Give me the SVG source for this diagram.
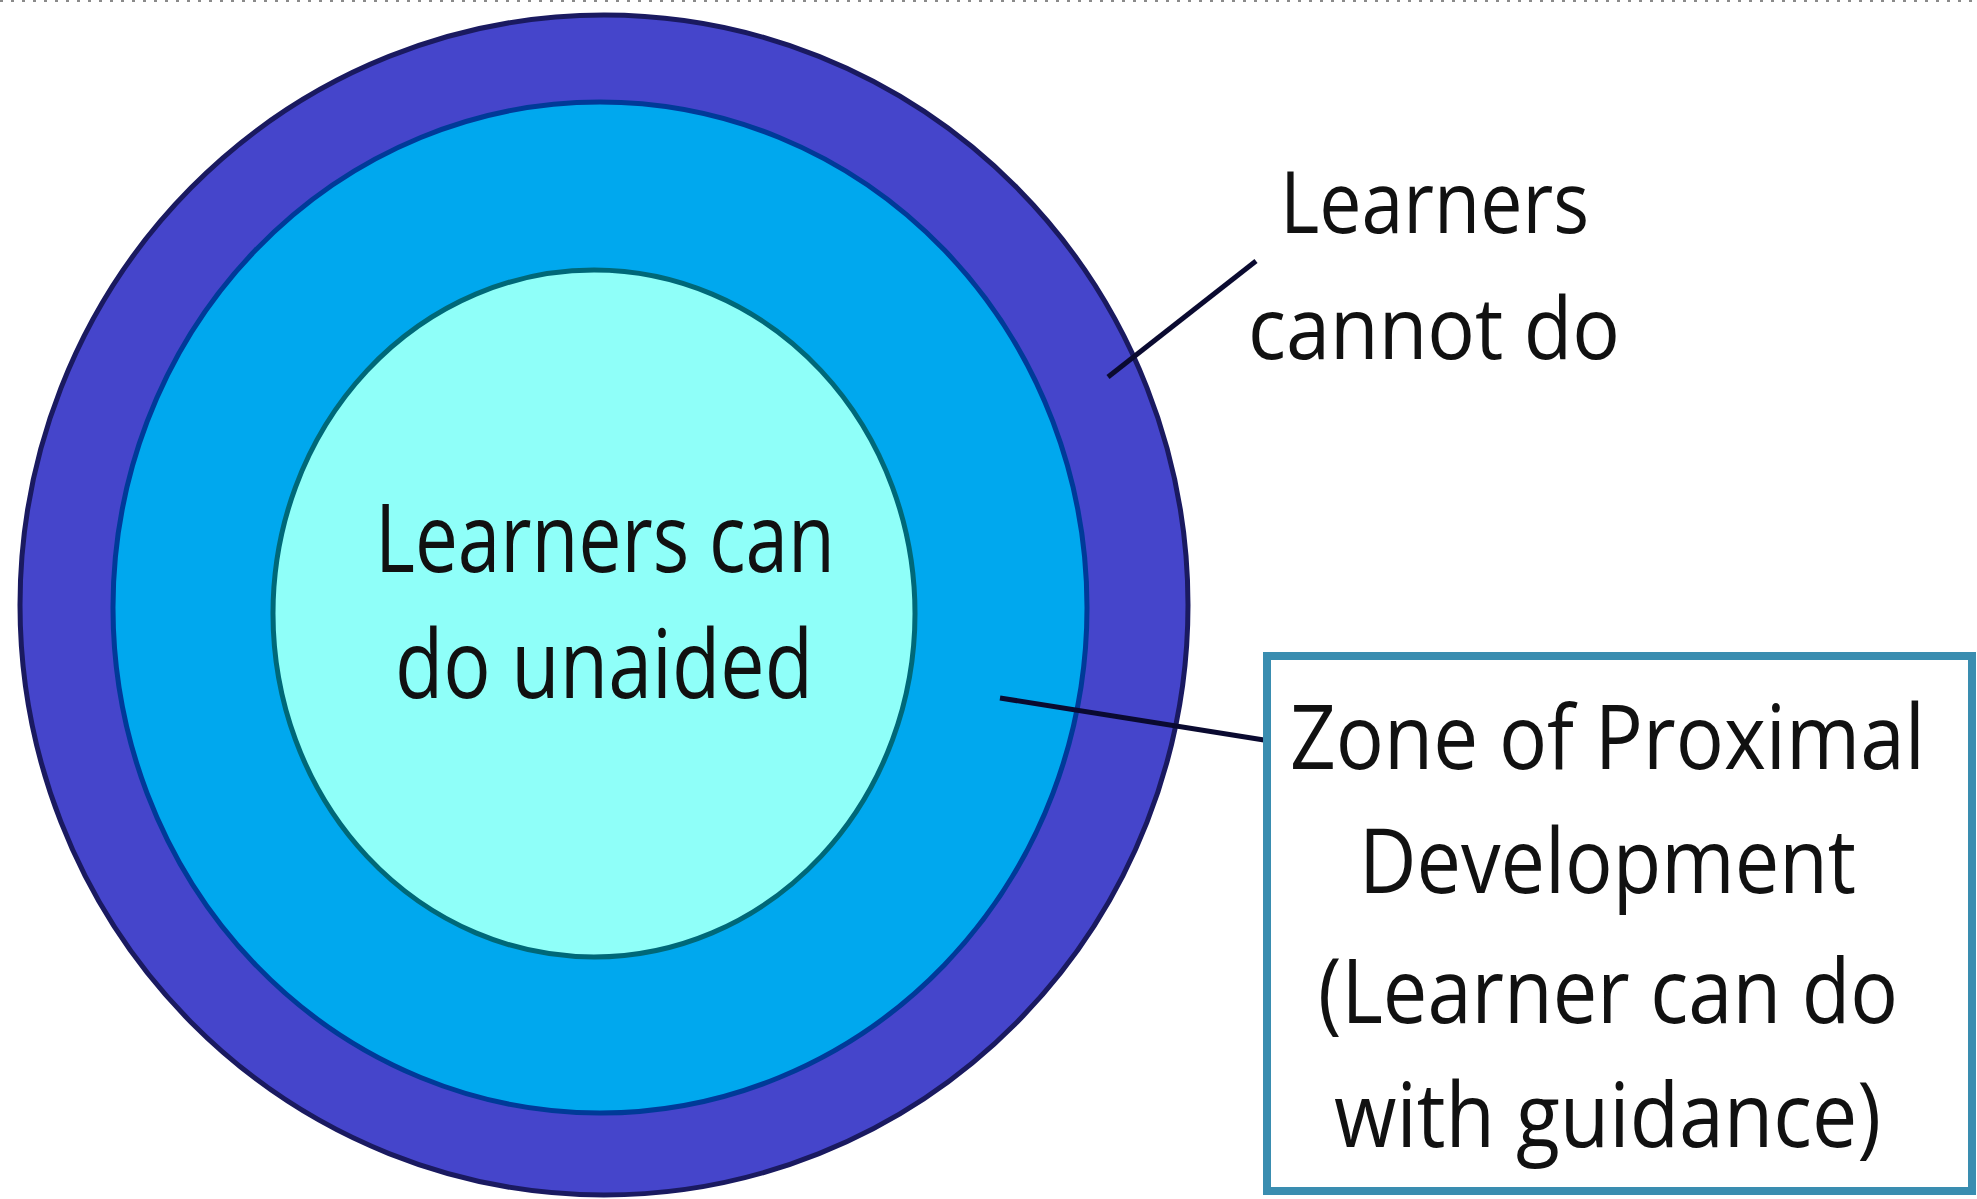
<svg xmlns="http://www.w3.org/2000/svg" width="1977" height="1199" viewBox="0 0 1977 1199">
<style>
  .lbl { font-family: "Open Sans", "Noto Sans", "Liberation Sans", sans-serif; fill: #111; }
  .conn { stroke: #0a0a30; stroke-width: 5; fill: none; stroke-linecap: butt; }
</style>
<rect x="0" y="0" width="1977" height="1199" fill="#ffffff"/>
<line x1="0" y1="1" x2="1977" y2="1" stroke="#8a8a8a" stroke-width="2" stroke-dasharray="3 8"/>

<g id="outer-zone">
  <ellipse cx="604" cy="605" rx="584" ry="590" fill="#4545CB" stroke="#1a1a60" stroke-width="5"/>
</g>
<g id="zpd-zone">
  <ellipse cx="600" cy="607.5" rx="487" ry="505.5" fill="#00A8EE" stroke="#003a98" stroke-width="5"/>
</g>
<g id="inner-zone">
  <ellipse cx="594" cy="613.5" rx="321" ry="343.5" fill="#8FFFF9" stroke="#006878" stroke-width="5"/>
  <text class="lbl" x="375" y="572" font-size="96" textLength="460" lengthAdjust="spacingAndGlyphs">Learners can</text>
  <text class="lbl" x="395" y="698" font-size="96" textLength="418" lengthAdjust="spacingAndGlyphs">do unaided</text>
</g>

<g id="connectors">
  <line class="conn" x1="1108" y1="377" x2="1256" y2="261"/>
  <line class="conn" x1="1000" y1="698" x2="1264" y2="740"/>
</g>

<g id="label-cannot">
  <text class="lbl" x="1280" y="233" font-size="86" textLength="309" lengthAdjust="spacingAndGlyphs">Learners</text>
  <text class="lbl" x="1248" y="359" font-size="86" textLength="372" lengthAdjust="spacingAndGlyphs">cannot do</text>
</g>

<g id="label-zpd">
  <rect x="1267" y="656" width="705" height="535" fill="#ffffff" stroke="#3a8db0" stroke-width="8"/>
  <text class="lbl" transform="translate(1290,769) scale(0.89,1)" x="0" y="0" font-size="90">Zone of Proximal</text>
  <text class="lbl" x="1359" y="893" font-size="90" textLength="497" lengthAdjust="spacingAndGlyphs">Development</text>
  <text class="lbl" x="1318" y="1023" font-size="90" textLength="580" lengthAdjust="spacingAndGlyphs">(Learner can do</text>
  <text class="lbl" x="1334" y="1147" font-size="90" textLength="547" lengthAdjust="spacingAndGlyphs">with guidance)</text>
</g>
</svg>
